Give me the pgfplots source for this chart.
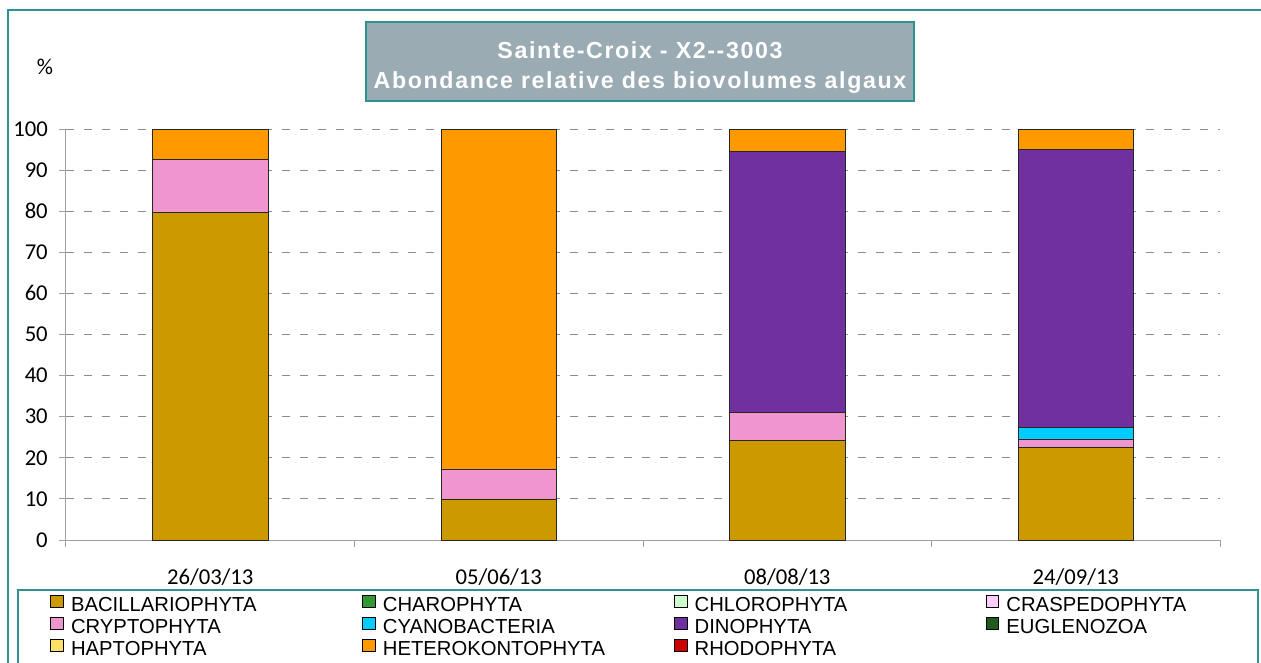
\documentclass[border=0pt]{standalone}
\usepackage{fontspec}
\setmainfont{Carlito}
\newfontfamily\arial{Liberation Sans}
\newfontfamily\titlefont[LetterSpace=7]{Liberation Sans}
\usepackage{pgfplots}
\pgfplotsset{compat=1.18}
\definecolor{Bac}{HTML}{CC9900}
\definecolor{Cha}{HTML}{339933}
\definecolor{Chl}{HTML}{CCFFCC}
\definecolor{Cra}{HTML}{FFCCFF}
\definecolor{Cry}{HTML}{F096CE}
\definecolor{Cya}{HTML}{00CCFF}
\definecolor{Din}{HTML}{7030A0}
\definecolor{Eug}{HTML}{215A1F}
\definecolor{Hap}{HTML}{FFE066}
\definecolor{Het}{HTML}{FF9900}
\definecolor{Rho}{HTML}{CC0000}
\definecolor{Frame}{HTML}{2E9390}
\definecolor{TitleFill}{HTML}{9BABB4}
\definecolor{Grid}{HTML}{8C8C8C}
\definecolor{AxisGray}{HTML}{A0A0A0}
\newcommand\ticks{\fontsize{17}{20}\selectfont}
\newcommand\lentry[1]{\addlegendentry{\makebox[218.25pt][l]{#1}}}

\begin{document}
\begin{tikzpicture}[x=0.75pt,y=-0.75pt]
\useasboundingbox (0,0) rectangle (1261,662);
\clip (0,0) rectangle (1261,662);
\draw[Frame,line width=1.5pt] (8,10) rectangle (1290,700);
\draw[Frame,line width=1pt] (18,590) rectangle (1258,700);
\coordinate (O) at (66,540);
\begin{axis}[
  at={(O)}, anchor=south west,
  scale only axis,
  width=865.5pt, height=308.25pt,
  ybar stacked, bar width=0.4,
  xmin=-0.5, xmax=3.5, ymin=0, ymax=100,
  axis x line*=bottom, axis y line*=left,
  axis line style={draw=AxisGray, line width=0.75pt},
  tick style={draw=AxisGray, line width=0.75pt},
  tick align=outside,
  major tick length=5pt,
  xtick={-0.5,0.5,1.5,2.5,3.5}, xticklabels={},
  extra x ticks={0,1,2,3},
  extra x tick labels={26/03/13,05/06/13,08/08/13,24/09/13},
  extra x tick style={major tick length=0pt,
    xticklabel style={anchor=north, inner sep=0pt, yshift=-21pt}},
  ytick={0,10,...,100},
  yticklabel style={anchor=east, inner sep=0pt, xshift=-8.5pt},
  tick label style={font=\ticks},
  /pgf/number format/assume math mode=true,
  ymajorgrids,
  grid style={dash pattern=on 6pt off 7.5pt, draw=Grid, line width=0.75pt},
  every axis plot/.append style={draw=black!85, line width=0.6pt},
  every axis plot post/.append style={legend image code/.code={
    \draw[##1,draw=black,line width=0.6pt] (0pt,0pt) rectangle (9.5pt,9.25pt);
    \path (15pt,0pt);}},
  legend columns=4,
  legend cell align=left,
  legend style={draw=none, fill=none, at={(-0.01386,-0.1335)}, anchor=north west,
    inner sep=0pt, column sep=0pt, row sep=0pt,
    font=\fontsize{15.2}{18}\selectfont\arial,
    nodes={inner sep=0pt, text height=9.6pt, text depth=3.9pt}},
]
\addplot[fill=Bac] coordinates {(0,79.6) (1,10.0) (2,24.3) (3,22.6)};
\lentry{BACILLARIOPHYTA}
\addplot[fill=Cha] coordinates {(0,0) (1,0) (2,0) (3,0)};
\lentry{CHAROPHYTA}
\addplot[fill=Chl] coordinates {(0,0) (1,0) (2,0) (3,0)};
\lentry{CHLOROPHYTA}
\addplot[fill=Cra] coordinates {(0,0) (1,0) (2,0) (3,0)};
\lentry{CRASPEDOPHYTA}
\addplot[fill=Cry] coordinates {(0,13.1) (1,7.3) (2,6.8) (3,2.0)};
\lentry{CRYPTOPHYTA}
\addplot[fill=Cya] coordinates {(0,0) (1,0) (2,0) (3,2.7)};
\lentry{CYANOBACTERIA}
\addplot[fill=Din] coordinates {(0,0) (1,0) (2,63.5) (3,67.8)};
\lentry{DINOPHYTA}
\addplot[fill=Eug] coordinates {(0,0) (1,0) (2,0) (3,0)};
\lentry{EUGLENOZOA}
\addplot[fill=Hap] coordinates {(0,0) (1,0) (2,0) (3,0)};
\lentry{HAPTOPHYTA}
\addplot[fill=Het] coordinates {(0,7.3) (1,82.7) (2,5.4) (3,4.9)};
\lentry{HETEROKONTOPHYTA}
\addplot[fill=Rho] coordinates {(0,0) (1,0) (2,0) (3,0)};
\lentry{RHODOPHYTA}
\end{axis}
\draw[Frame, fill=TitleFill, line width=1pt] (366,22) rectangle (914,101);
\node[anchor=base, text=white, font=\fontsize{17.4}{20}\selectfont\titlefont\bfseries] at (640,58) {Sainte-Croix - X2-{}-3003};
\node[anchor=base, text=white, font=\fontsize{17.4}{20}\selectfont\titlefont\bfseries] at (640,88) {Abondance relative des biovolumes algaux};
\node[font=\ticks] at (45,67) {\%};
\end{tikzpicture}
\end{document}
